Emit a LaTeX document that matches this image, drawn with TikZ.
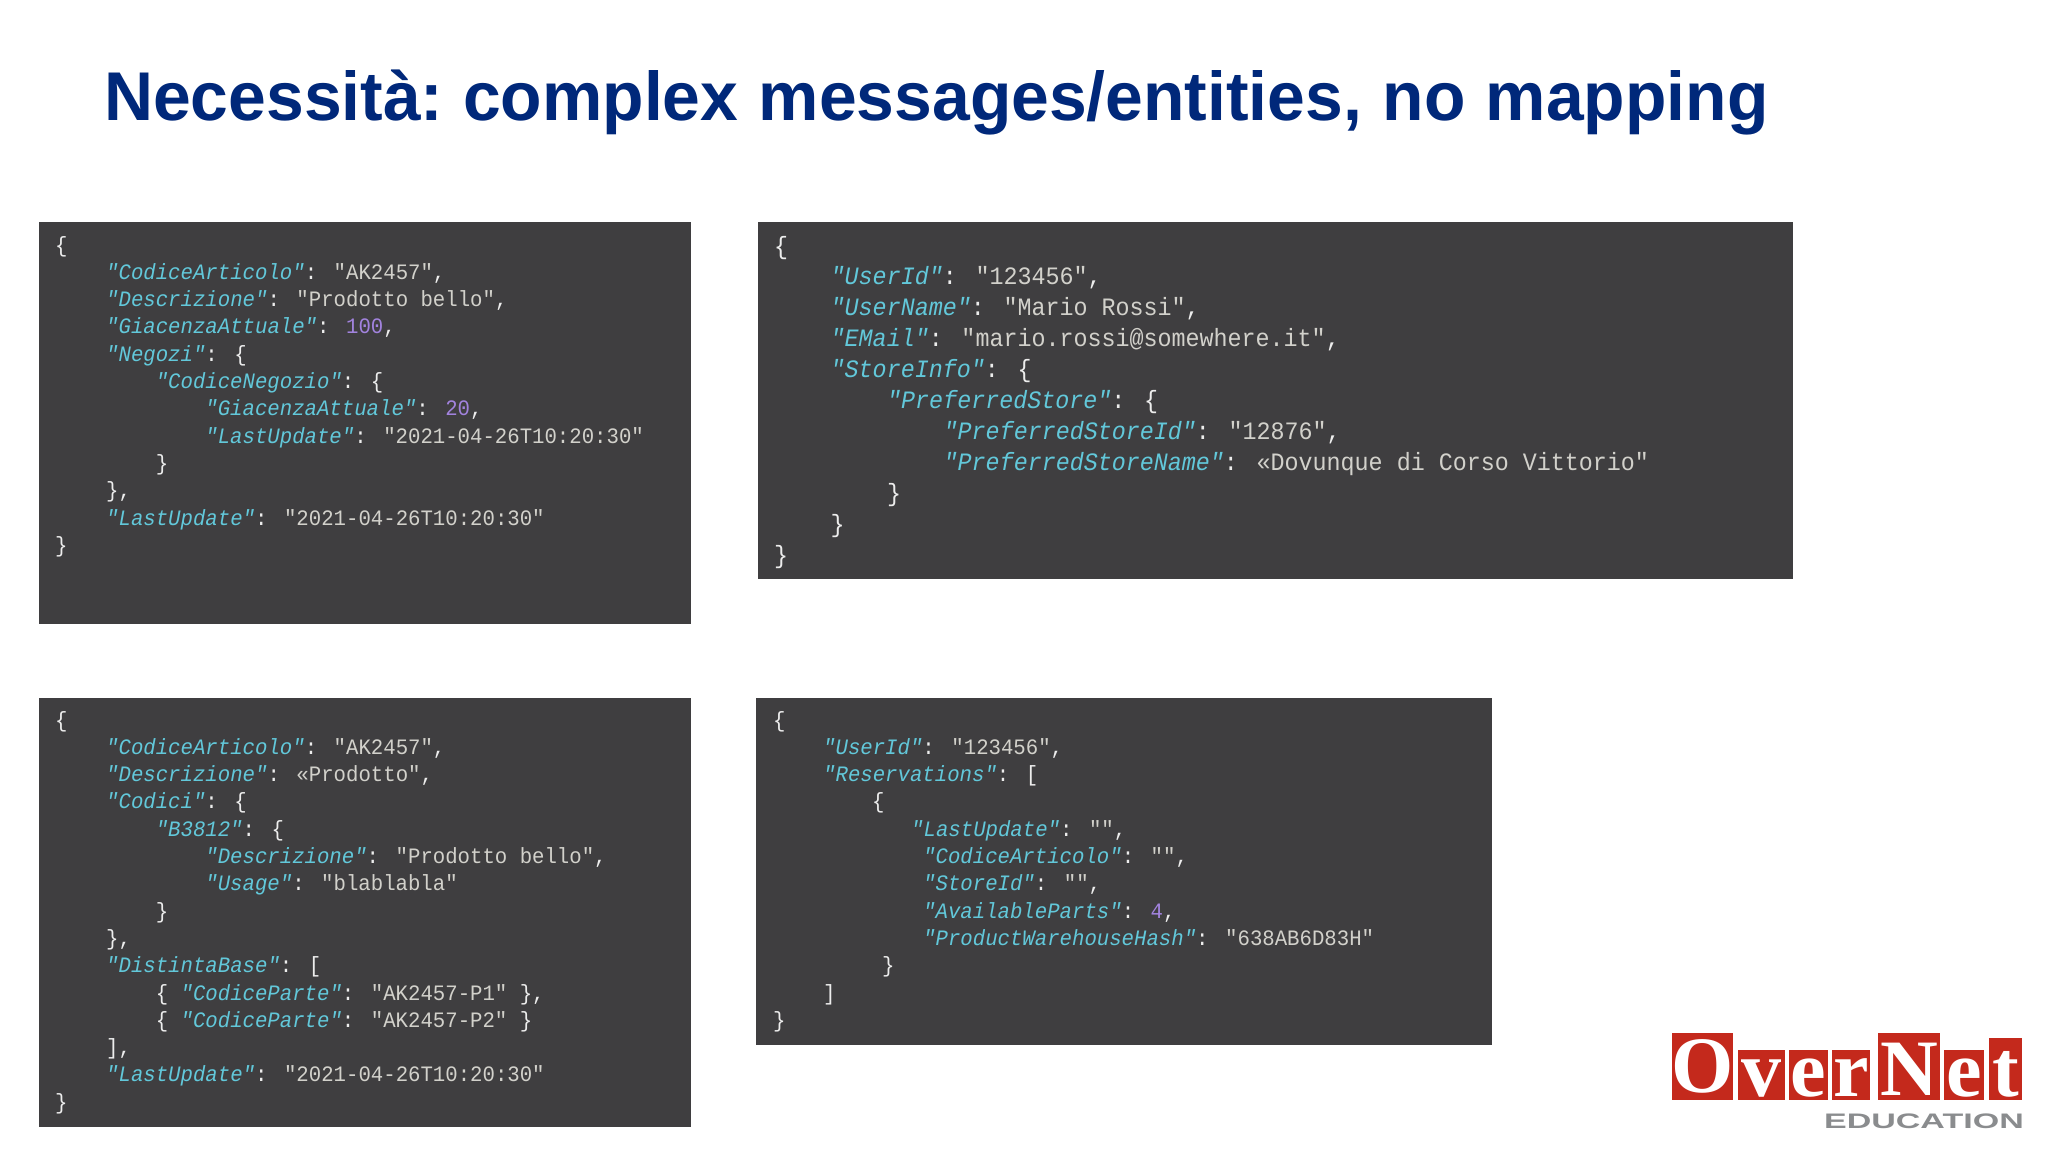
\documentclass[tikz,border=0pt]{standalone}
\usepackage{fontspec}
\setmainfont{Liberation Sans}
\newfontfamily\codefontA[FakeStretch=0.94,Ligatures=NoCommon]{Liberation Mono}
\newfontfamily\codefontB[FakeStretch=0.934,Ligatures=NoCommon]{Liberation Mono}
\newfontfamily\titlefont[FakeStretch=0.983]{Liberation Sans}
\newfontfamily\logoserif{Liberation Serif}
\newfontfamily\logosans[FakeStretch=1.62]{Liberation Sans}
\definecolor{panelbg}{HTML}{3F3E40}
\definecolor{jsonkey}{HTML}{62C8DA}
\definecolor{jsonstr}{HTML}{D2D1CB}
\definecolor{jsonnum}{HTML}{A283DE}
\definecolor{jsonpun}{HTML}{EDEDED}
\definecolor{titleblue}{HTML}{00287A}
\definecolor{logored}{HTML}{C4291C}
\definecolor{logogray}{HTML}{8A8C8E}
\newcommand{\jk}[1]{\textit{\textcolor{jsonkey}{#1}}}
\newcommand{\js}[1]{\textcolor{jsonstr}{#1}}
\newcommand{\jn}[1]{\textcolor{jsonnum}{#1}}
\tikzset{
  panel/.style={fill=panelbg,draw=none,anchor=north west,inner sep=0pt},
  codeA/.style={anchor=base west,inner sep=0pt,text=jsonpun,font=\codefontA\fontsize{22}{22}\selectfont},
  codeB/.style={anchor=base west,inner sep=0pt,text=jsonpun,font=\codefontB\fontsize{25}{25}\selectfont},
  tile/.style={fill=logored,draw=none,anchor=north west,inner sep=0pt},
  logoletter/.style={anchor=base,inner sep=0pt,text=white,font=\logoserif\bfseries\fontsize{80}{80}\selectfont},
}
\begin{document}
\begin{tikzpicture}[x=1pt,y=-1pt]
\useasboundingbox (0,0) rectangle (2048,1152);
\fill[white] (0,0) rectangle (2048,1152);
\node[anchor=base west,inner sep=0pt,text=titleblue,font=\titlefont\bfseries\fontsize{69}{69}\selectfont] (title) at (104,120) {\spaceskip=20.5pt Necessità:\kern-7pt{} complex messages/entities, no mapping};
% panels
\node[panel,minimum width=652pt,minimum height=402pt] (panelA) at (39,222) {};
\node[panel,minimum width=1035pt,minimum height=357pt] (panelB) at (758,222) {};
\node[panel,minimum width=652pt,minimum height=429pt] (panelC) at (39,698) {};
\node[panel,minimum width=736pt,minimum height=347pt] (panelD) at (756,698) {};
% panel A
\node[codeA] (a01) at (55,252) {\{};
\node[codeA] (a02) at (106,279.3) {\jk{"CodiceArticolo"}: \js{"AK2457"},};
\node[codeA] (a03) at (106,306.6) {\jk{"Descrizione"}: \js{"Prodotto bello"},};
\node[codeA] (a04) at (106,333.9) {\jk{"GiacenzaAttuale"}: \jn{100},};
\node[codeA] (a05) at (106,361.2) {\jk{"Negozi"}: \{};
\node[codeA] (a06) at (155.6,388.5) {\jk{"CodiceNegozio"}: \{};
\node[codeA] (a07) at (205.2,415.8) {\jk{"GiacenzaAttuale"}: \jn{20},};
\node[codeA] (a08) at (205.2,443.1) {\jk{"LastUpdate"}: \js{"2021-04-26T10:20:30"}};
\node[codeA] (a09) at (155.6,470.4) {\}};
\node[codeA] (a10) at (106,497.7) {\},};
\node[codeA] (a11) at (106,525) {\jk{"LastUpdate"}: \js{"2021-04-26T10:20:30"}};
\node[codeA] (a12) at (55,552.3) {\}};
% panel B
\node[codeB] (b01) at (774,254) {\{};
\node[codeB] (b02) at (830.5,284.9) {\jk{"UserId"}: \js{"123456"},};
\node[codeB] (b03) at (830.5,315.8) {\jk{"UserName"}: \js{"Mario Rossi"},};
\node[codeB] (b04) at (830.5,346.7) {\jk{"EMail"}: \js{"mario.rossi@somewhere.it"},};
\node[codeB] (b05) at (830.5,377.6) {\jk{"StoreInfo"}: \{};
\node[codeB] (b06) at (887,408.5) {\jk{"PreferredStore"}: \{};
\node[codeB] (b07) at (943.5,439.4) {\jk{"PreferredStoreId"}: \js{"12876"},};
\node[codeB] (b08) at (943.5,470.3) {\jk{"PreferredStoreName"}: \js{«Dovunque di Corso Vittorio"}};
\node[codeB] (b09) at (887,501.2) {\}};
\node[codeB] (b10) at (830.5,532.1) {\}};
\node[codeB] (b11) at (774,563) {\}};
% panel C
\node[codeA] (c01) at (55,727) {\{};
\node[codeA] (c02) at (106,754.3) {\jk{"CodiceArticolo"}: \js{"AK2457"},};
\node[codeA] (c03) at (106,781.6) {\jk{"Descrizione"}: \js{«Prodotto"},};
\node[codeA] (c04) at (106,808.9) {\jk{"Codici"}: \{};
\node[codeA] (c05) at (155.6,836.2) {\jk{"B3812"}: \{};
\node[codeA] (c06) at (205.2,863.5) {\jk{"Descrizione"}: \js{"Prodotto bello"},};
\node[codeA] (c07) at (205.2,890.8) {\jk{"Usage"}: \js{"blablabla"}};
\node[codeA] (c08) at (155.6,918.1) {\}};
\node[codeA] (c09) at (106,945.4) {\},};
\node[codeA] (c10) at (106,972.7) {\jk{"DistintaBase"}: [};
\node[codeA] (c11) at (155.6,1000) {\{ \jk{"CodiceParte"}: \js{"AK2457-P1"} \},};
\node[codeA] (c12) at (155.6,1027.3) {\{ \jk{"CodiceParte"}: \js{"AK2457-P2"} \}};
\node[codeA] (c13) at (106,1054.6) {],};
\node[codeA] (c14) at (106,1081.9) {\jk{"LastUpdate"}: \js{"2021-04-26T10:20:30"}};
\node[codeA] (c15) at (55,1109.2) {\}};
% panel D
\node[codeA] (d01) at (773,727) {\{};
\node[codeA] (d02) at (823,754.3) {\jk{"UserId"}: \js{"123456"},};
\node[codeA] (d03) at (823,781.6) {\jk{"Reservations"}: [};
\node[codeA] (d04) at (872,808.9) {\{};
\node[codeA] (d05) at (911,836.2) {\jk{"LastUpdate"}: \js{""},};
\node[codeA] (d06) at (923,863.5) {\jk{"CodiceArticolo"}: \js{""},};
\node[codeA] (d07) at (923,890.8) {\jk{"StoreId"}: \js{""},};
\node[codeA] (d08) at (923,918.1) {\jk{"AvailableParts"}: \jn{4},};
\node[codeA] (d09) at (923,945.4) {\jk{"ProductWarehouseHash"}: \js{"638AB6D83H"}};
\node[codeA] (d10) at (882,972.7) {\}};
\node[codeA] (d11) at (823,1000) {]};
\node[codeA] (d12) at (773,1027.3) {\}};
% logo
\node[tile,minimum width=61pt,minimum height=67pt] (tO) at (1672,1033) {};
\node[tile,minimum width=47pt,minimum height=50pt] (tv) at (1738,1050) {};
\node[tile,minimum width=39pt,minimum height=50pt] (te) at (1789,1050) {};
\node[tile,minimum width=38pt,minimum height=50pt] (tr) at (1832,1050) {};
\node[tile,minimum width=62pt,minimum height=67pt] (tN) at (1878,1033) {};
\node[tile,minimum width=40pt,minimum height=50pt] (tf) at (1944,1050) {};
\node[tile,minimum width=33pt,minimum height=62pt] (tt) at (1989,1038) {};
\node[logoletter] (lO) at (1702.5,1092) {O};
\node[logoletter] (lv) at (1761.5,1096) {v};
\node[logoletter] (le) at (1808.5,1096) {e};
\node[logoletter] (lr) at (1851,1096) {r};
\node[logoletter] (lN) at (1909,1095) {N};
\node[logoletter] (lf) at (1964,1096) {e};
\node[logoletter] (lt) at (2005.5,1096) {t};
\node[anchor=base east,inner sep=0pt,text=logogray,font=\logosans\bfseries\fontsize{21}{21}\selectfont] (edu) at (2024,1128) {EDUCATION};
\end{tikzpicture}
\end{document}
